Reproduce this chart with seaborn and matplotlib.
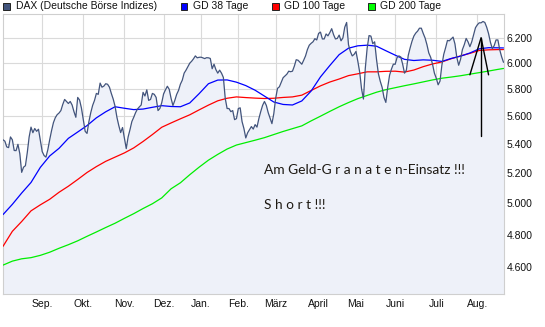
import numpy as np
import pandas as pd
import matplotlib
matplotlib.use("Agg")
import matplotlib.pyplot as plt
import seaborn as sns
from matplotlib.patches import Rectangle
from matplotlib.ticker import FixedLocator, NullLocator, FixedFormatter

# ---------------- data ----------------
holidays = ["2009-12-24", "2009-12-25", "2009-12-31", "2010-01-01", "2010-04-02", "2010-04-05"]
trading_days = pd.bdate_range("2009-08-03", "2010-08-20").difference(pd.DatetimeIndex(holidays))

dax_values = [
    5430, 5420, 5380, 5375, 5450, 5430, 5355, 5354, 5398, 5333,
    5205, 5240, 5250, 5340, 5450, 5520, 5480, 5510, 5490, 5505,
    5425, 5347, 5320, 5309, 5360, 5430, 5495, 5552, 5588, 5610,
    5622, 5640, 5685, 5722, 5707, 5692, 5707, 5681, 5632, 5591,
    5737, 5718, 5658, 5574, 5490, 5475, 5560, 5625, 5678, 5715,
    5767, 5760, 5845, 5814, 5822, 5840, 5836, 5814, 5767, 5725,
    5672, 5591, 5531, 5481, 5517, 5442, 5368, 5450, 5502, 5560,
    5591, 5625, 5651, 5667, 5681, 5775, 5748, 5794, 5715, 5722,
    5767, 5760, 5737, 5640, 5655, 5698, 5764, 5794, 5821, 5798,
    5730, 5677, 5715, 5760, 5790, 5837, 5867, 5921, 5944, 5971,
    5998, 6013, 6032, 6055, 6040, 6044, 6045, 6040, 6034, 6041,
    6040, 6035, 5955, 5990, 5948, 5921, 5944, 5921, 5888, 5730,
    5655, 5655, 5632, 5640, 5574, 5581, 5655, 5660, 5560, 5510,
    5443, 5480, 5502, 5524, 5506, 5538, 5520, 5581, 5632, 5678,
    5707, 5678, 5625, 5586, 5545, 5617, 5730, 5805, 5817, 5852,
    5886, 5900, 5913, 5936, 5932, 5936, 5975, 6025, 6021, 6005,
    5990, 6021, 6055, 6105, 6140, 6155, 6167, 6192, 6182, 6235,
    6245, 6190, 6190, 6230, 6215, 6241, 6273, 6225, 6190, 6194,
    6221, 6175, 6198, 6285, 6324, 6144, 6090, 6055, 6067, 6090,
    6013, 5928, 5800, 5725, 5959, 6117, 6217, 6213, 6152, 6167,
    6028, 5917, 5859, 5813, 5737, 5700, 5813, 5905, 5952, 5990,
    5990, 6042, 6055, 6047, 5990, 5921, 5944, 6059, 6118, 6171,
    6213, 6237, 6253, 6277, 6277, 6235, 6198, 6144, 6078, 6044,
    5990, 5921, 5882, 5832, 5860, 5982, 6067, 6120, 6178, 6175,
    6190, 6205, 6150, 6044, 5982, 6028, 6105, 6144, 6194, 6167,
    6128, 6167, 6225, 6281, 6305, 6321, 6321, 6332, 6324, 6285,
    6233, 6163, 6113, 6136, 6182, 6182, 6102, 6048, 6005,
]

ma_dates = [
    "2009-08-03", "2009-08-10", "2009-08-17", "2009-08-24", "2009-08-31", "2009-09-07",
    "2009-09-14", "2009-09-21", "2009-09-28", "2009-10-05", "2009-10-12", "2009-10-19",
    "2009-10-26", "2009-11-02", "2009-11-09", "2009-11-16", "2009-11-23", "2009-11-30",
    "2009-12-07", "2009-12-14", "2009-12-21", "2009-12-30", "2010-01-08", "2010-01-15",
    "2010-01-22", "2010-01-29", "2010-02-05", "2010-02-12", "2010-02-19", "2010-02-26",
    "2010-03-05", "2010-03-12", "2010-03-19", "2010-03-26", "2010-04-06", "2010-04-13",
    "2010-04-20", "2010-04-27", "2010-05-04", "2010-05-11", "2010-05-18", "2010-05-25",
    "2010-06-01", "2010-06-08", "2010-06-15", "2010-06-22", "2010-06-29", "2010-07-06",
    "2010-07-13", "2010-07-20", "2010-07-27", "2010-08-03", "2010-08-10", "2010-08-17",
    "2010-08-20",
]
gd38 = [
    4927, 4993, 5067, 5137, 5239, 5317, 5370, 5440, 5485, 5531,
    5587, 5631, 5668, 5657, 5647, 5651, 5664, 5676, 5670, 5668,
    5696, 5765, 5840, 5868, 5869, 5852, 5826, 5791, 5747, 5703,
    5685, 5681, 5711, 5785, 5892, 5980, 6065, 6116, 6135, 6140,
    6132, 6096, 6061, 6028, 6019, 6024, 6021, 6012, 6035, 6053,
    6078, 6111, 6120, 6119, 6118,
]
gd100 = [
    4728, 4821, 4883, 4951, 4990, 5026, 5072, 5112, 5157, 5204,
    5244, 5280, 5309, 5338, 5373, 5418, 5467, 5519, 5550, 5580,
    5609, 5645, 5680, 5712, 5731, 5741, 5736, 5732, 5729, 5731,
    5737, 5741, 5754, 5789, 5824, 5853, 5876, 5902, 5916, 5931,
    5931, 5935, 5936, 5929, 5945, 5971, 5992, 6008, 6033, 6055,
    6075, 6098, 6103, 6105, 6105,
]
gd200 = [
    4614, 4638, 4652, 4659, 4673, 4692, 4716, 4738, 4762, 4790,
    4817, 4845, 4872, 4903, 4933, 4966, 4997, 5035, 5095, 5135,
    5189, 5240, 5288, 5328, 5365, 5393, 5410, 5427, 5445, 5467,
    5489, 5509, 5529, 5565, 5599, 5634, 5668, 5699, 5728, 5752,
    5776, 5795, 5810, 5825, 5839, 5854, 5869, 5882, 5891, 5901,
    5913, 5925, 5937, 5950, 5957,
]

month_labels = ["Sep.", "Okt.", "Nov.", "Dez.", "Jan.", "Feb.", "März", "April", "Mai", "Juni", "Juli", "Aug."]
y_ticks = [4600, 4800, 5000, 5200, 5400, 5600, 5800, 6000, 6200]
legend_labels = ["DAX (Deutsche Börse Indizes)", "GD 38 Tage", "GD 100 Tage", "GD 200 Tage"]

arrow_dates = ["2010-07-27", "2010-08-04", "2010-08-10"]
arrow_values = [5908, 6200, 5908]
arrow_shaft = [6200, 5460]

text_line1 = "Am Geld-G r a n a t e n-Einsatz !!!"
text_line2 = "S h o r t !!!"

# ---------------- frames ----------------
t_index = np.arange(len(trading_days))
dax_df = pd.DataFrame({"t": t_index, "DAX": dax_values})
ma_idx = trading_days.get_indexer(pd.to_datetime(ma_dates))
ma_df = pd.DataFrame({"t": ma_idx, "GD38": gd38, "GD100": gd100, "GD200": gd200})
arrow_idx = trading_days.get_indexer(pd.to_datetime(arrow_dates))

# ---------------- style ----------------
sns.set_style("white")
plt.rcParams["font.family"] = ["Liberation Sans", "DejaVu Sans"]

W, H = 545, 327
fig = plt.figure(figsize=(W / 100, H / 100), dpi=100)
L, R, T, B = 3, 503.5, 13.5, 293.5
ax = fig.add_axes([L / W, 1 - B / H, (R - L) / W, (B - T) / H])

y_lo, y_hi = 4447, 6398
ax.set_yscale("log")
ax.set_ylim(y_lo, y_hi)
ax.set_xlim(0, len(trading_days) - 1)

c_dax = "#42547c"
ax.fill_between(dax_df["t"], dax_df["DAX"], y_lo, color="#eef1f9", lw=0, zorder=1)

sns.lineplot(data=ma_df, x="t", y="GD200", color="#00ee00", lw=0.9, ax=ax, zorder=3)
sns.lineplot(data=ma_df, x="t", y="GD100", color="#ff0000", lw=0.9, ax=ax, zorder=3)
sns.lineplot(data=ma_df, x="t", y="GD38", color="#0000ff", lw=0.9, ax=ax, zorder=3)
sns.lineplot(data=dax_df, x="t", y="DAX", color=c_dax, lw=0.9, ax=ax, zorder=4)

# annotation arrow (hand drawn in original)
ax.plot(arrow_idx, arrow_values, color="black", lw=1.0, zorder=5)
ax.plot([arrow_idx[1], arrow_idx[1]], arrow_shaft, color="black", lw=1.0, zorder=5)

ax.text(0.5215, 0.441, text_line1, transform=ax.transAxes, fontsize=9.9,
        family=["Lato", "DejaVu Sans"], color="#1e1a14", va="center", ha="left", zorder=6)
ax.text(0.5215, 0.316, text_line2, transform=ax.transAxes, fontsize=9.9,
        family=["Lato", "DejaVu Sans"], color="#1e1a14", va="center", ha="left", zorder=6)

# ticks
s = pd.Series(t_index, index=trading_days)
month_first = s.groupby(trading_days.to_period("M")).first().values[1:]
ax.xaxis.set_major_locator(FixedLocator(month_first))
ax.xaxis.set_major_formatter(FixedFormatter(month_labels))
ax.yaxis.set_major_locator(FixedLocator(y_ticks))
ax.yaxis.set_major_formatter(FixedFormatter([f"{v:,}".replace(",", ".") for v in y_ticks]))
ax.yaxis.set_minor_locator(NullLocator())
ax.xaxis.set_minor_locator(NullLocator())
ax.yaxis.tick_right()
ax.tick_params(axis="x", length=2.2, width=0.8, color="#cfcfcf", pad=2.0, labelsize=7.5, labelcolor="#111111")
ax.tick_params(axis="y", length=0, pad=2.3, labelsize=7.5, labelcolor="#111111")
ax.set_xlabel("")
ax.set_ylabel("")
ax.grid(True, color="#dadada", lw=0.8, zorder=0)
ax.set_axisbelow(True)
for sp in ax.spines.values():
    sp.set_color("#cfcfcf")
    sp.set_linewidth(0.8)
if ax.get_legend():
    ax.get_legend().remove()

# legend (top)
sq_colors = [c_dax, "#0000ff", "#ff0000", "#00ff00"]
sq_x = [3, 180.5, 272, 368]
for lab, col, x0 in zip(legend_labels, sq_colors, sq_x):
    fig.patches.append(Rectangle((x0 / W, 1 - 9.6 / H), 6.8 / W, 6.8 / H, transform=fig.transFigure,
                                 facecolor=col, edgecolor="#222222", lw=0.7))
    fig.text((x0 + 12.5) / W, 1 - 6.3 / H, lab, fontsize=7.5, va="center", ha="left", color="#111111")

fig.savefig("out.png", dpi=100)
